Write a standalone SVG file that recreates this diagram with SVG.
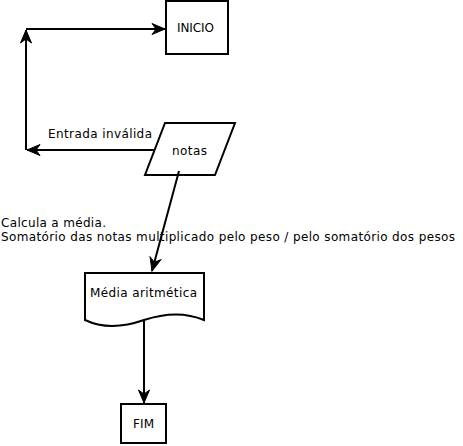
<svg xmlns="http://www.w3.org/2000/svg" width="463" height="446" viewBox="0 0 463 446">
<defs>
<style>
.shape{fill:#fff;stroke:#000;stroke-width:2}
.conn{fill:none;stroke:#000;stroke-width:2}
text{font-family:"DejaVu Sans","Liberation Sans",sans-serif;font-size:12px;fill:#000}
</style>
<marker id="arr" markerUnits="userSpaceOnUse" viewBox="-14 -7 16 14" refX="0" refY="0" markerWidth="16" markerHeight="14" orient="auto">
<path d="M0,0 L-13,-5.5 L-9,0 L-13,5.5 Z" fill="#000" stroke="#000" stroke-width="1"/>
</marker>
</defs>
<rect width="463" height="446" fill="#fff"/>
<g id="inicio">
<rect class="shape" x="166" y="1" width="62" height="53"/>
<text x="177" y="32" textLength="37">INICIO</text>
</g>
<g id="notas">
<polygon class="shape" points="165,123 235,123 215,175 145,175"/>
<text x="172" y="155" textLength="35">notas</text>
</g>
<g id="media">
<path class="shape" d="M85,273 H204 V320 C185,312 165,313 144,320 C124,327 104,329 85,320 Z"/>
<text x="90" y="297" textLength="107">Média aritmética</text>
</g>
<g id="fim">
<rect class="shape" x="121" y="404" width="45" height="39"/>
<text x="133" y="428" textLength="21">FIM</text>
</g>
<g id="connectors">
<line class="conn" x1="154" y1="150" x2="27" y2="150" marker-end="url(#arr)"/>
<line class="conn" x1="26" y1="150" x2="26" y2="30" marker-end="url(#arr)"/>
<line class="conn" x1="26" y1="29" x2="165" y2="29" marker-end="url(#arr)"/>
<line class="conn" x1="179" y1="171" x2="152" y2="271" marker-end="url(#arr)"/>
<line class="conn" x1="144" y1="320" x2="144" y2="403" marker-end="url(#arr)"/>
</g>
<g id="labels">
<text x="48" y="138" textLength="104">Entrada inválida</text>
<text x="1" y="227" textLength="105">Calcula a média.</text>
<text x="1" y="241" textLength="454">Somatório das notas multiplicado pelo peso / pelo somatório dos pesos</text>
</g>
</svg>
